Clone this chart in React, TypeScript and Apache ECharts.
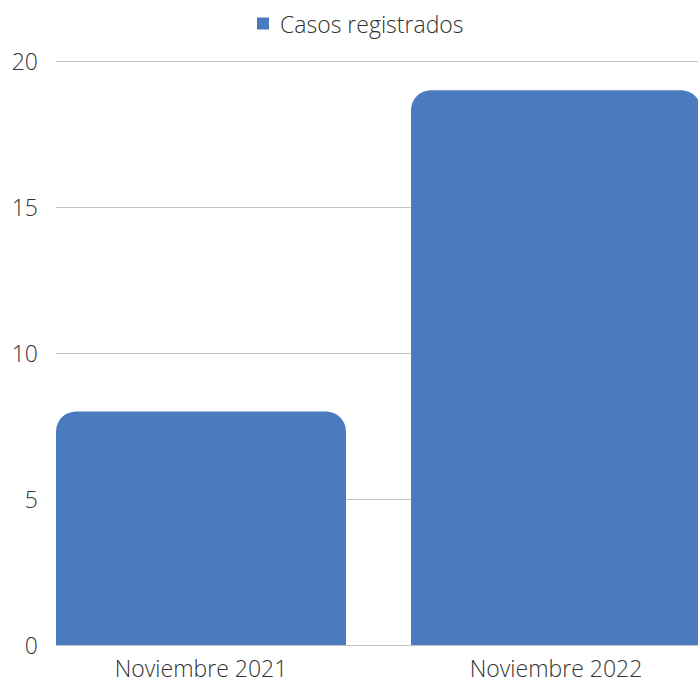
import React, { useEffect, useRef } from "react";
import * as echarts from "echarts";

const categories = ["Noviembre 2021", "Noviembre 2022"];
const casos = [8, 19];
const seriesName = "Casos registrados";
const yMin = 0;
const yMax = 20;
const yInterval = 5;

export default function App() {
  const ref = useRef<HTMLDivElement>(null);
  useEffect(() => {
    if (!ref.current) return;
    const chart = echarts.init(ref.current, null, { renderer: "svg" });
    const font = "'Open Sans', sans-serif";
    const txt = { fontSize: 23, color: "#333", fontFamily: font, fontWeight: 300 };
    chart.setOption({
      animation: false,
      textStyle: { fontFamily: font },
      legend: {
        data: [seriesName],
        left: 257,
        top: 12,
        padding: 0,
        icon: "rect",
        itemWidth: 12,
        itemHeight: 12,
        textStyle: { ...txt, padding: [0, 0, 0, 6] },
      },
      grid: [
        { left: 56, right: 0, top: 61, bottom: 37, outerBoundsMode: "none" },
        { left: 23.5, right: -35.5, top: 61, bottom: 37, outerBoundsMode: "none" },
      ],
      xAxis: [
        { type: "category", gridIndex: 0, data: categories, show: false },
        {
          type: "category",
          gridIndex: 1,
          data: categories,
          axisLine: { show: false },
          axisTick: { show: false },
          axisLabel: { ...txt, margin: 11 },
        },
      ],
      yAxis: [
        {
          type: "value",
          gridIndex: 0,
          min: yMin,
          max: yMax,
          interval: yInterval,
          axisLine: { show: false },
          axisTick: { show: false },
          axisLabel: { ...txt, margin: 18 },
          splitLine: { lineStyle: { color: "#c4c4c4", width: 1 } },
        },
        {
          type: "value",
          gridIndex: 1,
          min: yMin,
          max: yMax,
          interval: yInterval,
          show: false,
          splitLine: { show: false },
        },
      ],
      series: [
        {
          name: seriesName,
          type: "bar",
          xAxisIndex: 1,
          yAxisIndex: 1,
          data: casos,
          barWidth: 290,
          itemStyle: { color: "#4a7bbe", borderRadius: [20, 20, 0, 0] },
        },
      ],
    });
    return () => chart.dispose();
  }, []);
  return (
    <div
      ref={ref}
      style={{ position: "fixed", left: 0, top: 0, width: 698, height: 682, background: "#fff" }}
    />
  );
}
